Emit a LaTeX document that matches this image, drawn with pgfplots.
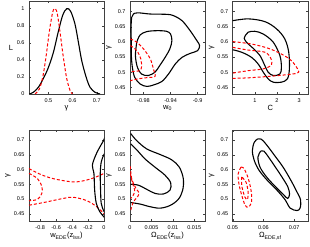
\documentclass[border=0pt]{standalone}
\usepackage{fontspec}
\setmainfont{Liberation Sans}
\usepackage{pgfplots}
\pgfplotsset{compat=1.18}
\pgfplotsset{
  every axis/.append style={
    scale only axis, width=75pt, height=93pt, anchor=south west,
    axis line style={black!75, line width=0.5pt},
    tick align=inside, major tick length=2pt,
    every tick/.style={black!75, line width=0.4pt},
    tick label style={font=\fontsize{5.5}{6}\selectfont},
    /pgf/number format/assume math mode=true,
    scaled ticks=false,
    label style={font=\fontsize{7.5}{8}\selectfont},
    xticklabel style={yshift=-1pt},
    yticklabel style={xshift=-1pt},
    xlabel style={at={(axis description cs:0.5,0)}, anchor=north, yshift=-8pt},
    ylabel style={at={(axis description cs:-0.28,0.5)}, anchor=center},
    clip=true,
  },
  blk/.style={black, line width=1.1pt, smooth, tension=0.55, mark=none},
  rd/.style={red, line width=1.0pt, dash pattern=on 3pt off 2pt, smooth, tension=0.55, mark=none},
}
\begin{document}
\begin{tikzpicture}
\useasboundingbox (0,0) rectangle (310pt,246pt);
% ---------- Panel 1 ----------
\begin{axis}[at={(29pt,152pt)}, width=75pt, height=93pt,
  xmin=0.42, xmax=0.73, ymin=0, ymax=1.09,
  xtick={0.5,0.6,0.7}, xticklabels={0.5,0.6,0.7},
  ytick={0,0.2,0.4,0.6,0.8,1}, yticklabels={0,0.2,0.4,0.6,0.8,1},
  xlabel={γ}, ylabel={L}, ylabel style={rotate=-90, at={(axis description cs:-0.24,0.5)}}]
\addplot[blk] coordinates {(0.421,0) (0.438,0.02) (0.459,0.08) (0.479,0.18) (0.5,0.31) (0.521,0.49) (0.541,0.73) (0.559,0.92) (0.576,1.0) (0.592,0.97) (0.61,0.82) (0.624,0.61) (0.638,0.39) (0.656,0.2) (0.672,0.08) (0.693,0.02) (0.714,0)};
\addplot[rd] coordinates {(0.445,0) (0.463,0.06) (0.477,0.2) (0.49,0.43) (0.504,0.73) (0.518,0.96) (0.528,1.0) (0.537,0.94) (0.548,0.73) (0.562,0.43) (0.576,0.18) (0.59,0.04) (0.6,0)};
\end{axis}
% ---------- Panel 2 ----------
\begin{axis}[at={(130pt,152pt)}, width=75pt, height=93pt,
  xmin=-1, xmax=-0.889, ymin=0.428, ymax=0.735,
  xtick={-0.98,-0.94,-0.9}, xticklabels={-0.98,-0.94,-0.9},
  ytick={0.45,0.5,0.55,0.6,0.65,0.7}, yticklabels={0.45,0.5,0.55,0.6,0.65,0.7},
  xlabel={w\textsubscript{0}}, ylabel={γ}]
\addplot[blk] coordinates {(-0.998,0.599) (-0.9985,0.643) (-0.9975,0.681) (-0.995,0.692) (-0.988,0.696) (-0.970,0.692) (-0.946,0.691) (-0.936,0.687) (-0.923,0.670) (-0.911,0.637) (-0.901,0.604) (-0.897,0.588) (-0.900,0.571) (-0.911,0.562) (-0.923,0.549) (-0.933,0.527) (-0.943,0.494) (-0.953,0.469) (-0.965,0.458) (-0.975,0.453) (-0.985,0.461) (-0.993,0.483) (-0.9965,0.516) (-0.998,0.555) (-0.998,0.599)};
\addplot[blk] coordinates {(-0.990,0.599) (-0.985,0.623) (-0.975,0.634) (-0.960,0.637) (-0.946,0.635) (-0.940,0.626) (-0.938,0.604) (-0.941,0.577) (-0.948,0.549) (-0.956,0.522) (-0.963,0.500) (-0.973,0.489) (-0.983,0.494) (-0.989,0.516) (-0.992,0.555) (-0.990,0.599)};
\addplot[rd] coordinates {(-0.9995,0.610) (-0.990,0.599) (-0.980,0.577) (-0.970,0.544) (-0.9654,0.511) (-0.963,0.486) (-0.975,0.482) (-0.988,0.478) (-0.9995,0.472)};
\addplot[rd] coordinates {(-0.9995,0.588) (-0.990,0.571) (-0.984,0.544) (-0.983,0.516) (-0.986,0.505) (-0.9975,0.502)};
\end{axis}
% ---------- Panel 3 ----------
\begin{axis}[at={(232.7pt,152pt)}, width=75.3pt, height=93pt,
  xmin=0, xmax=3.4, ymin=0.428, ymax=0.735,
  xtick={1,2,3}, xticklabels={1,2,3},
  ytick={0.45,0.5,0.55,0.6,0.65,0.7}, yticklabels={0.45,0.5,0.55,0.6,0.65,0.7},
  xlabel={C}, ylabel={γ}]
\addplot[blk] coordinates {(0,0.670) (0.70,0.676) (1.45,0.667) (1.98,0.643) (2.35,0.610) (2.53,0.566) (2.56,0.511) (2.47,0.478) (2.20,0.467) (1.83,0.467) (1.60,0.478) (1.38,0.500) (1.15,0.527) (0.85,0.549) (0.40,0.566) (0,0.574)};
\addplot[blk] coordinates {(0.55,0.618) (0.70,0.632) (1.0,0.635) (1.38,0.626) (1.83,0.599) (2.13,0.555) (2.20,0.516) (2.13,0.494) (1.83,0.489) (1.60,0.500) (1.45,0.522) (1.23,0.555) (0.92,0.579) (0.62,0.599) (0.52,0.612) (0.55,0.618)};
\addplot[rd] coordinates {(0,0.601) (0.85,0.593) (1.60,0.579) (2.20,0.560) (2.65,0.538) (2.95,0.508) (2.92,0.497) (2.35,0.491) (1.60,0.486) (0.85,0.482) (0.25,0.480) (0,0.480)};
\addplot[rd] coordinates {(0,0.582) (0.70,0.573) (1.45,0.566) (1.72,0.546) (1.75,0.524) (1.38,0.511) (0.70,0.505) (0,0.497)};
\end{axis}
% ---------- Panel 4 ----------
\begin{axis}[at={(29pt,25pt)}, width=75pt, height=91pt,
  xmin=-0.94, xmax=0, ymin=0.4255, ymax=0.734,
  xtick={-0.8,-0.6,-0.4,-0.2,0}, xticklabels={-0.8,-0.6,-0.4,-0.2,0},
  ytick={0.45,0.5,0.55,0.6,0.65,0.7}, yticklabels={0.45,0.5,0.55,0.6,0.65,0.7},
  xlabel={w\textsubscript{EDE}(z\textsubscript{lss})}, ylabel={γ}]
\addplot[rd] coordinates {(-0.94,0.603) (-0.8,0.584) (-0.635,0.569) (-0.386,0.558) (-0.221,0.564) (-0.097,0.575) (-0.006,0.586) (0.02,0.59)};
\addplot[rd] coordinates {(-0.94,0.479) (-0.759,0.488) (-0.51,0.502) (-0.386,0.506) (-0.221,0.495) (-0.097,0.475) (-0.006,0.452) (0.02,0.446)};
\addplot[rd] coordinates {(-0.94,0.587) (-0.833,0.569) (-0.779,0.542) (-0.779,0.519) (-0.833,0.499) (-0.94,0.494)};
\addplot[blk] coordinates {(0.01,0.71) (-0.006,0.698) (-0.055,0.675) (-0.105,0.648) (-0.146,0.614) (-0.126,0.586) (-0.117,0.530) (-0.097,0.486) (-0.055,0.458) (-0.006,0.441) (0.01,0.436)};
\addplot[blk] coordinates {(0.01,0.655) (-0.006,0.648) (-0.035,0.625) (-0.047,0.586) (-0.043,0.530) (-0.035,0.486) (-0.006,0.461) (0.01,0.455)};
\end{axis}
% ---------- Panel 5 ----------
\begin{axis}[at={(130pt,25pt)}, width=75pt, height=91pt,
  xmin=0, xmax=0.0175, ymin=0.4255, ymax=0.734,
  xtick={0,0.005,0.01,0.015}, xticklabels={0,0.005,0.01,0.015},
  ytick={0.45,0.5,0.55,0.6,0.65,0.7}, yticklabels={0.45,0.5,0.55,0.6,0.65,0.7},
  xlabel={Ω\textsubscript{EDE}(z\textsubscript{lss})}, ylabel={γ}]
\addplot[blk] coordinates {(0.00016,0.722) (0.00156,0.698) (0.00389,0.670) (0.00700,0.651) (0.00972,0.633) (0.01151,0.608) (0.01244,0.569) (0.01229,0.530) (0.01128,0.499) (0.00933,0.478) (0.00700,0.469) (0.00467,0.474) (0.00233,0.483) (0.00016,0.488)};
\addplot[blk] coordinates {(0.00016,0.687) (0.00156,0.667) (0.0035,0.636) (0.00583,0.608) (0.00816,0.581) (0.00949,0.555) (0.00933,0.530) (0.00778,0.517) (0.00583,0.519) (0.00389,0.533) (0.00194,0.547) (0.00016,0.550)};
\addplot[rd] coordinates {(0.00008,0.611) (0.00039,0.569) (0.0014,0.536) (0.0021,0.521) (0.0017,0.506) (0.0008,0.491) (0.00016,0.461)};
\addplot[rd] coordinates {(0.00008,0.586) (0.0006,0.553) (0.0011,0.530) (0.0008,0.514) (0.00016,0.502)};
\end{axis}
% ---------- Panel 6 ----------
\begin{axis}[at={(232.7pt,25pt)}, width=75.3pt, height=91pt,
  xmin=0.05, xmax=0.0745, ymin=0.4255, ymax=0.734,
  xtick={0.05,0.06,0.07}, xticklabels={0.05,0.06,0.07},
  ytick={0.45,0.5,0.55,0.6,0.65,0.7}, yticklabels={0.45,0.5,0.55,0.6,0.65,0.7},
  xlabel={Ω\textsubscript{EDE,sf}}, ylabel={γ}]
\addplot[blk] coordinates {(0.0580,0.703) (0.0570,0.692) (0.0564,0.664) (0.0570,0.631) (0.0586,0.597) (0.0612,0.564) (0.0644,0.530) (0.0671,0.497) (0.0687,0.469) (0.0709,0.461) (0.0719,0.469) (0.0721,0.497) (0.0706,0.530) (0.0689,0.564) (0.0664,0.608) (0.0636,0.648) (0.0610,0.684) (0.0593,0.703) (0.0580,0.703)};
\addplot[blk] coordinates {(0.0591,0.662) (0.0582,0.642) (0.0589,0.608) (0.0610,0.575) (0.0639,0.542) (0.0666,0.514) (0.0679,0.502) (0.0685,0.517) (0.0679,0.542) (0.0660,0.575) (0.0639,0.608) (0.0618,0.640) (0.0602,0.662) (0.0591,0.662)};
\addplot[rd] coordinates {(0.0527,0.608) (0.0518,0.586) (0.0520,0.553) (0.0529,0.514) (0.0540,0.480) (0.0550,0.472) (0.0561,0.488) (0.0561,0.519) (0.0555,0.553) (0.0545,0.586) (0.0534,0.606) (0.0527,0.608)};
\addplot[rd] coordinates {(0.0529,0.575) (0.0530,0.542) (0.0540,0.506) (0.0548,0.499) (0.0550,0.525) (0.0543,0.558) (0.0529,0.575)};
\end{axis}
\end{tikzpicture}
\end{document}
